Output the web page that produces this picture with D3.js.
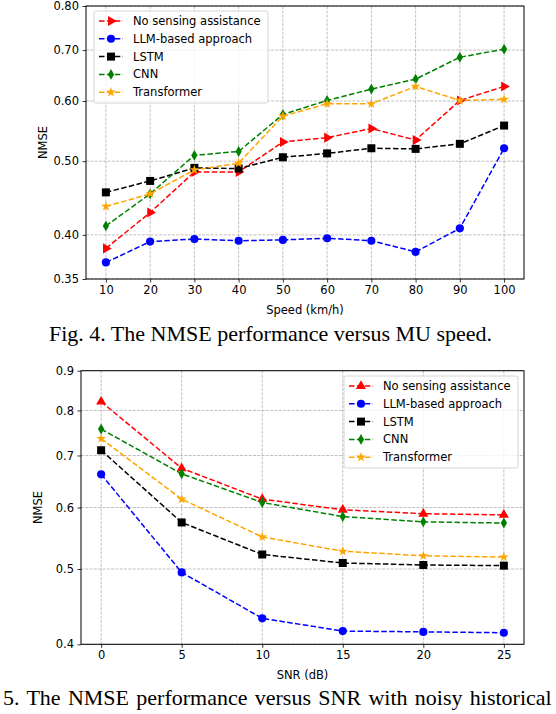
<!DOCTYPE html>
<html>
<head>
<meta charset="utf-8">
<script src="https://cdn.jsdelivr.net/npm/d3@7"></script>
<style>
  body { margin: 0; background: #fff; }
  svg { display: block; }
</style>
</head>
<body>
<script>
// ---- data ----
let speeds = [10, 20, 30, 40, 50, 60, 70, 80, 90, 100];
let speedNoSensing = [0.384, 0.428, 0.484, 0.484, 0.530, 0.537, 0.552, 0.533, 0.601, 0.627];
let speedLLM = [0.368, 0.392, 0.395, 0.393, 0.394, 0.396, 0.393, 0.380, 0.408, 0.520];
let speedLSTM = [0.455, 0.471, 0.490, 0.489, 0.506, 0.512, 0.520, 0.519, 0.527, 0.557];
let speedCNN = [0.411, 0.453, 0.509, 0.515, 0.576, 0.601, 0.622, 0.641, 0.685, 0.702];
let speedTransformer = [0.436, 0.453, 0.487, 0.497, 0.573, 0.595, 0.595, 0.627, 0.601, 0.603];
let speedYTicks = [0.35, 0.40, 0.50, 0.60, 0.70, 0.80];

let snrs = [0, 5, 10, 15, 20, 25];
let snrNoSensing = [0.821, 0.674, 0.615, 0.596, 0.589, 0.587];
let snrLLM = [0.662, 0.495, 0.432, 0.416, 0.415, 0.414];
let snrLSTM = [0.711, 0.574, 0.522, 0.509, 0.506, 0.505];
let snrCNN = [0.757, 0.663, 0.609, 0.584, 0.575, 0.573];
let snrTransformer = [0.736, 0.615, 0.550, 0.527, 0.520, 0.518];
let snrYTicks = [0.4, 0.5, 0.6, 0.7, 0.8, 0.9];

let seriesNames = ["No sensing assistance", "LLM-based approach", "LSTM", "CNN", "Transformer"];
let seriesColors = ["#ff0000", "#0000ff", "#000000", "#008000", "#ffa500"];

let svg = d3.select("body").append("svg")
    .attr("width", 556)
    .attr("height", 714)
    .style("font-family", "'DejaVu Sans', sans-serif");

// marker shapes, matplotlib style
function markerPath(kind) {
    if (kind == "o") return d3.symbol(d3.symbolCircle, 52)();
    if (kind == "s") return d3.symbol(d3.symbolSquare, 64)();
    if (kind == "d") return d3.symbol(d3.symbolDiamond, 34)();
    if (kind == "*") return d3.symbol(d3.symbolStar, 30)();
    return d3.symbol(d3.symbolTriangle, 44)();
}
function markerRotate(kind) {
    if (kind == ">") return 90;
    return 0;
}

function drawChart(opt) {
    let g = svg.append("g");

    let x = d3.scaleLinear().domain(opt.xDomain).range([opt.left, opt.right]);
    let y = d3.scaleLog().domain(opt.yDomain).range([opt.bottom, opt.top]);

    // grid
    g.append("g").selectAll("line")
        .data(opt.xs)
        .enter().append("line")
        .attr("x1", d => x(d)).attr("x2", d => x(d))
        .attr("y1", opt.top).attr("y2", opt.bottom)
        .attr("stroke", "#b0b0b0").attr("stroke-width", 0.8)
        .attr("stroke-dasharray", "3,1.3");
    g.append("g").selectAll("line")
        .data(opt.yTicks)
        .enter().append("line")
        .attr("x1", opt.left).attr("x2", opt.right)
        .attr("y1", d => y(d)).attr("y2", d => y(d))
        .attr("stroke", "#b0b0b0").attr("stroke-width", 0.8)
        .attr("stroke-dasharray", "3,1.3");

    // axes
    let xAxis = g.append("g")
        .attr("transform", "translate(0," + opt.bottom + ")")
        .call(d3.axisBottom(x).tickValues(opt.xs).tickSize(3.5).tickPadding(3.5).tickSizeOuter(0));
    let yAxis = g.append("g")
        .attr("transform", "translate(" + opt.left + ",0)")
        .call(d3.axisLeft(y).tickValues(opt.yTicks).tickFormat(d3.format(opt.yFormat))
            .tickSize(3.5).tickPadding(3.5).tickSizeOuter(0));
    [xAxis, yAxis].forEach(a => {
        a.select(".domain").remove();
        a.selectAll("text").attr("font-size", 11.5).attr("font-family", "'DejaVu Sans', sans-serif").attr("fill", "#000");
        a.selectAll("line").attr("stroke", "#000").attr("stroke-width", 0.8);
    });

    // frame
    g.append("rect")
        .attr("x", opt.left).attr("y", opt.top)
        .attr("width", opt.right - opt.left).attr("height", opt.bottom - opt.top)
        .attr("fill", "none").attr("stroke", "#000").attr("stroke-width", 1);

    // series
    let line = d3.line().x(d => x(d[0])).y(d => y(d[1]));
    opt.series.forEach((s, i) => {
        let pts = opt.xs.map((v, j) => [v, s.values[j]]);
        g.append("path")
            .datum(pts)
            .attr("d", line)
            .attr("fill", "none")
            .attr("stroke", seriesColors[i])
            .attr("stroke-width", 1.5)
            .attr("stroke-dasharray", "5.5,2.4");
        g.append("g").selectAll("path")
            .data(pts)
            .enter().append("path")
            .attr("d", markerPath(s.marker))
            .attr("transform", d => "translate(" + x(d[0]) + "," + y(d[1]) + ") rotate(" + markerRotate(s.marker) + ")")
            .attr("fill", seriesColors[i]);
    });

    // legend
    let lg = g.append("g");
    lg.append("rect")
        .attr("x", opt.legend.x).attr("y", opt.legend.y)
        .attr("width", opt.legend.w).attr("height", opt.legend.h)
        .attr("rx", 2)
        .attr("fill", "#fff").attr("fill-opacity", 0.8)
        .attr("stroke", "#cccccc").attr("stroke-width", 0.8);
    opt.series.forEach((s, i) => {
        let ly = opt.legend.y + 10 + i * 17.8;
        let lx = opt.legend.x + 5;
        lg.append("line")
            .attr("x1", lx).attr("x2", lx + 24)
            .attr("y1", ly).attr("y2", ly)
            .attr("stroke", seriesColors[i]).attr("stroke-width", 1.5)
            .attr("stroke-dasharray", "5.5,2.4");
        lg.append("path")
            .attr("d", markerPath(s.marker))
            .attr("transform", "translate(" + (lx + 12) + "," + ly + ") rotate(" + markerRotate(s.marker) + ")")
            .attr("fill", seriesColors[i]);
        lg.append("text")
            .attr("x", lx + 34).attr("y", ly)
            .attr("dy", "0.35em")
            .attr("font-size", 11.5)
            .text(s.name);
    });

    // axis labels
    g.append("text")
        .attr("x", (opt.left + opt.right) / 2)
        .attr("y", opt.bottom + 35)
        .attr("text-anchor", "middle")
        .attr("font-size", 11.5)
        .text(opt.xLabel);
    g.append("text")
        .attr("transform", "translate(" + (opt.left - 39) + "," + ((opt.top + opt.bottom) / 2) + ") rotate(-90)")
        .attr("text-anchor", "middle")
        .attr("font-size", 11.5)
        .text("NMSE");
}

drawChart({
    left: 86, right: 524, top: 6, bottom: 279,
    xDomain: [5.5, 104.5], yDomain: [0.35, 0.80],
    xs: speeds, yTicks: speedYTicks, yFormat: ".2f",
    xLabel: "Speed (km/h)",
    legend: {x: 94, y: 11, w: 174, h: 92},
    series: [
        {name: seriesNames[0], values: speedNoSensing, marker: ">"},
        {name: seriesNames[1], values: speedLLM, marker: "o"},
        {name: seriesNames[2], values: speedLSTM, marker: "s"},
        {name: seriesNames[3], values: speedCNN, marker: "d"},
        {name: seriesNames[4], values: speedTransformer, marker: "*"}
    ]
});

drawChart({
    left: 81, right: 524, top: 370.7, bottom: 644.3,
    xDomain: [-1.25, 26.25], yDomain: [0.4, 0.9],
    xs: snrs, yTicks: snrYTicks, yFormat: ".1f",
    xLabel: "SNR (dB)",
    legend: {x: 344, y: 376, w: 174, h: 92},
    series: [
        {name: seriesNames[0], values: snrNoSensing, marker: "^"},
        {name: seriesNames[1], values: snrLLM, marker: "o"},
        {name: seriesNames[2], values: snrLSTM, marker: "s"},
        {name: seriesNames[3], values: snrCNN, marker: "d"},
        {name: seriesNames[4], values: snrTransformer, marker: "*"}
    ]
});

// captions
svg.append("text")
    .attr("x", 270.5).attr("y", 341)
    .attr("text-anchor", "middle")
    .attr("font-family", "'Liberation Serif', serif")
    .attr("font-size", 22)
    .text("Fig. 4. The NMSE performance versus MU speed.");
svg.append("text")
    .attr("x", 3).attr("y", 705)
    .attr("font-family", "'Liberation Serif', serif")
    .attr("font-size", 22)
    .attr("word-spacing", 1.8)
    .text("5. The NMSE performance versus SNR with noisy historical");
</script>
</body>
</html>
